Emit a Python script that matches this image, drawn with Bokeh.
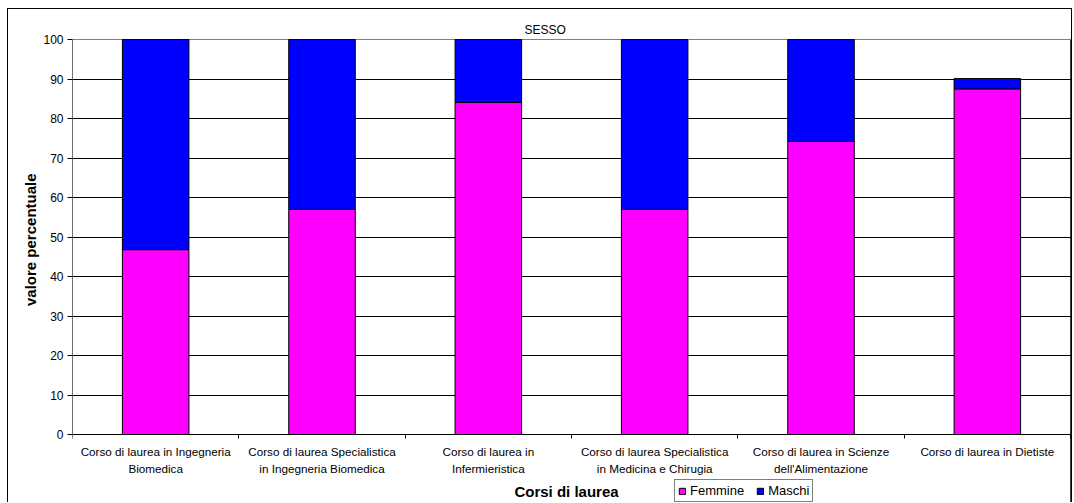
from bokeh.plotting import figure
from bokeh.models import (Range1d, FixedTicker, Label, Legend, LegendItem,
                          ColumnDataSource, Grid)
from bokeh.embed import file_html
from bokeh.resources import INLINE

# ---- data ----
categories = [
    "Corso di laurea in Ingegneria\nBiomedica",
    "Corso di laurea Specialistica\nin Ingegneria Biomedica",
    "Corso di laurea in\nInfermieristica",
    "Corso di laurea Specialistica\nin Medicina e Chirugia",
    "Corso di laurea in Scienze\ndell'Alimentazione",
    "Corso di laurea in Dietiste",
]
femmine = [46.8, 57.0, 84.1, 57.0, 74.2, 87.5]
maschi = [53.2, 43.0, 15.9, 43.0, 25.8, 2.6]
series_names = ["Femmine", "Maschi"]
y_ticks = [0, 10, 20, 30, 40, 50, 60, 70, 80, 90, 100]
chart_title = "SESSO"
x_title = "Corsi di laurea"
y_title = "valore percentuale"

FONT = "Liberation Sans"
n = len(categories)
positions = list(range(1, n + 1))
boundaries = [i + 0.5 for i in range(0, n + 1)]
y_max_val = y_ticks[-1]

source = ColumnDataSource(dict(x=positions, Femmine=femmine, Maschi=maschi))

# ---- layout geometry (page pixels) ----
W, H = 1065, 494          # canvas size; canvas starts at page (8, 9)
frame_left, frame_right = 72, 1071
frame_top, frame_bottom = 38, 503
axis_top_px, axis_zero_px = 39, 434
ppu_y = (axis_zero_px - axis_top_px) / y_max_val
ppu_x = (1070 - frame_left) / n
y_lo = -(frame_bottom - axis_zero_px) / ppu_y
y_hi = y_max_val + (axis_top_px - frame_top) / ppu_y
x_lo = 0.5
x_hi = n + 0.5 + (frame_right - 1070) / ppu_x

p = figure(width=W, height=H, output_backend="svg", toolbar_location=None,
           x_range=Range1d(x_lo, x_hi), y_range=Range1d(y_lo, y_hi),
           min_border_left=frame_left - 8, min_border_right=8 + W - frame_right,
           min_border_top=frame_top - 9, min_border_bottom=0,
           background_fill_color="white", border_fill_color="white")
p.styles = {"margin-left": "7px", "margin-top": "8px",
            "border-left": "1px solid black", "border-top": "1px solid black",
            "border-right": "1px solid black"}
p.outline_line_color = None

renderers = p.vbar_stack(series_names, x="x", width=0.4, source=source,
                         color=["#FF00FF", "#0000FF"], line_color="black",
                         line_width=1)

# title
p.title.text = chart_title
p.title.align = "left"
p.title.offset = 452
p.title.standoff = 3
p.title.text_font = FONT
p.title.text_font_size = "12px"
p.title.text_font_style = "normal"
p.title.text_color = "black"

# y axis (leading no-break spaces lift the centred title to the 0-100 span)
p.yaxis.ticker = FixedTicker(ticks=y_ticks)
p.yaxis.bounds = (0, y_max_val)
p.yaxis.major_tick_out = 5
p.yaxis.major_tick_in = 0
p.yaxis.minor_tick_out = 0
p.yaxis.minor_tick_in = 0
p.yaxis.axis_line_color = "#707070"
p.yaxis.major_tick_line_color = "black"
p.yaxis.major_label_text_font = FONT
p.yaxis.major_label_text_font_size = "12px"
p.yaxis.major_label_text_color = "black"
p.yaxis.major_label_standoff = 4
p.yaxis.axis_label = "\u00a0" * 15 + y_title
p.yaxis.axis_label_text_font = FONT
p.yaxis.axis_label_text_font_size = "15px"
p.yaxis.axis_label_text_font_style = "bold"
p.yaxis.axis_label_text_color = "black"
p.yaxis.axis_label_standoff = 1

# x axis, fixed at value 0 inside the frame
p.xaxis.fixed_location = 0
p.xaxis.bounds = (0.5, n + 0.5)
p.xaxis.ticker = FixedTicker(ticks=positions, minor_ticks=boundaries)
p.xaxis.major_label_overrides = {pos: lab for pos, lab in zip(positions, categories)}
p.xaxis.major_tick_out = 0
p.xaxis.major_tick_in = 0
p.xaxis.minor_tick_out = 4
p.xaxis.minor_tick_in = 0
p.xaxis.minor_tick_line_color = "black"
p.xaxis.axis_line_color = "black"
p.xaxis.major_label_text_font = FONT
p.xaxis.major_label_text_font_size = "11.7px"
p.xaxis.major_label_text_color = "black"
p.xaxis.major_label_text_line_height = 1.35
p.xaxis.major_label_standoff = 6

# grid lines
p.xgrid.ticker = FixedTicker(ticks=[n + 0.5])
p.xgrid.bounds = (0, y_max_val)
p.xgrid.grid_line_color = "#404040"
p.ygrid.ticker = FixedTicker(ticks=y_ticks[1:-1])
p.ygrid.bounds = (0.5, n + 0.5)
p.ygrid.grid_line_color = "black"
p.ygrid.grid_line_width = 1
p.add_layout(Grid(dimension=1, ticker=FixedTicker(ticks=[y_max_val]),
                  bounds=(0.5, n + 0.5), grid_line_color="#808080"))

# x-axis title (screen units relative to the plot frame)
p.add_layout(Label(x=566 - frame_left, y=frame_bottom - 491, x_units="screen",
                   y_units="screen", text=x_title, text_align="center",
                   text_baseline="middle", text_font=FONT, text_font_size="15px",
                   text_font_style="bold", text_color="black"))

legend = Legend(items=[LegendItem(label=s, renderers=[r]) for s, r in zip(series_names, renderers)],
                location=(674 - frame_left, 1), orientation="horizontal",
                label_text_font=FONT, label_text_font_size="13px",
                label_text_color="black", glyph_width=8, glyph_height=8,
                label_height=13, label_standoff=4, spacing=12, padding=3,
                margin=0, border_line_color="black", border_line_width=1,
                background_fill_color="white", background_fill_alpha=1)
p.add_layout(legend)

open("out.html", "w").write(file_html(p, INLINE))
